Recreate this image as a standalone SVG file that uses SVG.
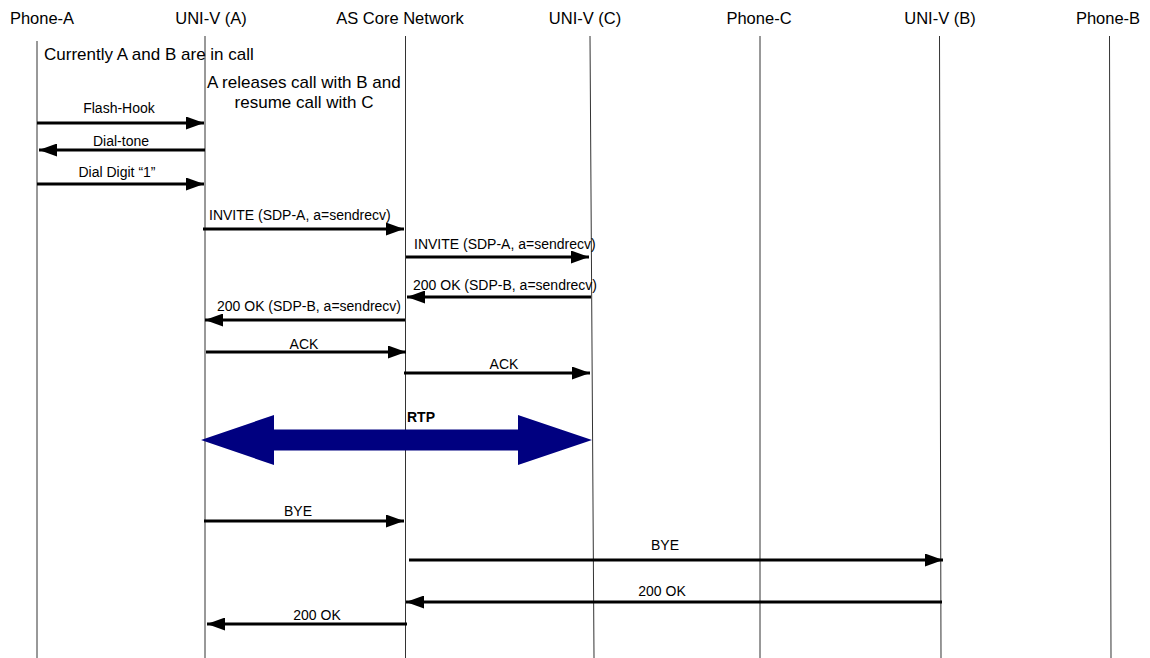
<svg xmlns="http://www.w3.org/2000/svg" width="1150" height="658" viewBox="0 0 1150 658">
  <style>
    text { font-family: "Liberation Sans", Arial, sans-serif; fill: #000; }
    .head { font-size: 16.5px; text-anchor: middle; }
    .note { font-size: 17px; }
    .lbl { font-size: 14px; }
    .mid { text-anchor: middle; }
    .life { stroke: #333; stroke-width: 1; fill: none; }
    .msg { stroke: #000; stroke-width: 2.8; fill: none; marker-end: url(#arrow); }
  </style>
  <defs>
    <marker id="arrow" viewBox="0 0 18 13" refX="18" refY="6.5" markerWidth="18" markerHeight="13" markerUnits="userSpaceOnUse" orient="auto">
      <path d="M0,0 L18,6.5 L0,13 z" fill="#000"/>
    </marker>
  </defs>
  <rect width="1150" height="658" fill="#fff"/>

  <!-- participants with their lifelines -->
  <g id="phone-a">
    <text class="head" x="42" y="24">Phone-A</text>
    <line class="life" x1="37" y1="41" x2="37" y2="658"/>
  </g>
  <g id="uni-v-a">
    <text class="head" x="211" y="24">UNI-V (A)</text>
    <line class="life" x1="205" y1="36" x2="205" y2="658"/>
  </g>
  <g id="as-core">
    <text class="head" x="400" y="24">AS Core Network</text>
    <line class="life" x1="405.5" y1="36" x2="405.5" y2="658"/>
  </g>
  <g id="uni-v-c">
    <text class="head" x="585" y="24">UNI-V (C)</text>
    <line class="life" x1="590" y1="36" x2="594" y2="658"/>
  </g>
  <g id="phone-c">
    <text class="head" x="759" y="24">Phone-C</text>
    <line class="life" x1="760" y1="36" x2="760" y2="658"/>
  </g>
  <g id="uni-v-b">
    <text class="head" x="940" y="24">UNI-V (B)</text>
    <line class="life" x1="939.5" y1="36" x2="941" y2="658"/>
  </g>
  <g id="phone-b">
    <text class="head" x="1108" y="24">Phone-B</text>
    <line class="life" x1="1109.5" y1="36" x2="1111" y2="658"/>
  </g>

  <!-- notes -->
  <g id="notes">
    <text class="note" x="44" y="60">Currently A and B are in call</text>
    <text class="note" x="207" y="88">A releases call with B and</text>
    <text class="note mid" x="304" y="108">resume call with C</text>
  </g>

  <!-- messages -->
  <g id="connectors">
    <line class="msg" x1="37" y1="123" x2="204" y2="123"/>
    <text class="lbl mid" x="119" y="113">Flash-Hook</text>

    <line class="msg" x1="205" y1="150" x2="39" y2="150"/>
    <text class="lbl mid" x="121" y="146">Dial-tone</text>

    <line class="msg" x1="37" y1="184" x2="204" y2="184"/>
    <text class="lbl mid" x="117" y="177">Dial Digit “1”</text>

    <line class="msg" x1="203" y1="229" x2="404" y2="229"/>
    <text class="lbl" x="209" y="220">INVITE (SDP-A, a=sendrecv)</text>

    <line class="msg" x1="406" y1="257" x2="589" y2="257"/>
    <text class="lbl" x="414" y="249">INVITE (SDP-A, a=sendrecv)</text>

    <line class="msg" x1="591" y1="297" x2="407" y2="297"/>
    <text class="lbl" x="413" y="290">200 OK (SDP-B, a=sendrecv)</text>

    <line class="msg" x1="405" y1="320" x2="205" y2="320"/>
    <text class="lbl" x="217" y="311">200 OK (SDP-B, a=sendrecv)</text>

    <line class="msg" x1="206" y1="352" x2="406" y2="352"/>
    <text class="lbl mid" x="304" y="349">ACK</text>

    <line class="msg" x1="404" y1="373" x2="590" y2="373"/>
    <text class="lbl mid" x="504" y="369">ACK</text>

    <!-- media stream -->
    <polygon id="rtp" points="201,440 274,415 274,429.5 518,429.5 518,415 592,440 518,465 518,450.5 274,450.5 274,465" fill="#000080"/>
    <text class="lbl" x="407" y="422" font-weight="bold">RTP</text>

    <line class="msg" x1="204" y1="521" x2="404" y2="521"/>
    <text class="lbl mid" x="298" y="516">BYE</text>

    <line class="msg" x1="409" y1="560" x2="943" y2="560"/>
    <text class="lbl mid" x="665" y="550">BYE</text>

    <line class="msg" x1="942" y1="602" x2="406" y2="602"/>
    <text class="lbl mid" x="662" y="596">200 OK</text>

    <line class="msg" x1="407" y1="624" x2="207" y2="624"/>
    <text class="lbl mid" x="317" y="620">200 OK</text>
  </g>
</svg>
